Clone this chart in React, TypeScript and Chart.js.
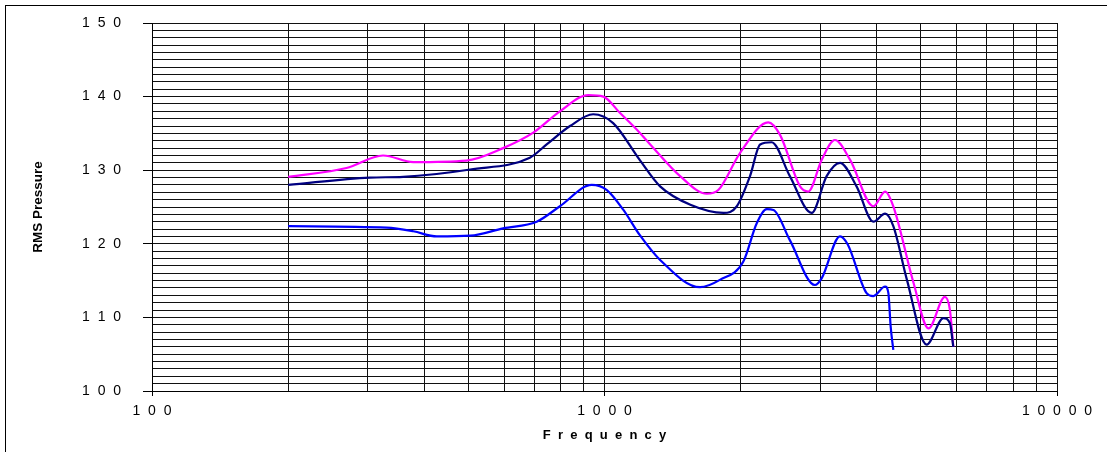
import { useEffect, useRef } from "react";
import { Chart, registerables } from "chart.js";

Chart.register(...registerables);

// ---- Data ----
const magentaFreq = [200, 269, 324, 378, 495, 597, 696, 797, 921, 994, 1081, 1196, 1262, 1469, 1683, 1784, 1991, 2301, 2443, 2705, 2821, 3019, 3230, 3490, 3928, 4170, 4348, 4818, 5200, 5653, 5800, 5900];
const magentaValues = [129.1, 130.3, 132.0, 131.1, 131.3, 133.0, 135.1, 138.0, 140.2, 140.0, 137.8, 135.1, 133.5, 129.2, 126.8, 127.3, 132.3, 136.5, 134.8, 127.8, 127.1, 131.4, 134.1, 131.4, 125.1, 127.1, 125.1, 114.7, 108.5, 112.8, 111.0, 106.0];

const navyFreq = [200, 303, 359, 505, 684, 745, 839, 944, 1045, 1196, 1327, 1548, 1832, 1961, 2097, 2208, 2341, 2568, 2870, 3097, 3315, 3606, 3928, 4170, 4348, 4660, 5150, 5610, 5800, 5900];
const navyValues = [128.0, 129.0, 129.1, 130.1, 131.7, 133.5, 136.0, 137.6, 136.4, 131.4, 127.8, 125.3, 124.2, 125.1, 129.2, 133.5, 133.8, 129.2, 124.2, 129.2, 131.0, 127.8, 123.0, 124.1, 122.4, 115.1, 106.3, 109.9, 109.2, 106.0];

const blueFreq = [200, 330, 378, 426, 505, 597, 708, 797, 937, 1012, 1101, 1196, 1327, 1626, 1799, 2027, 2170, 2284, 2362, 2568, 2918, 3019, 3315, 3448, 3795, 3928, 4170, 4240, 4290, 4348];
const blueValues = [122.4, 122.2, 121.7, 121.0, 121.1, 122.1, 123.0, 125.1, 128.0, 127.3, 124.6, 121.2, 117.8, 114.1, 115.1, 117.6, 122.8, 124.7, 124.6, 120.5, 114.4, 115.3, 121.0, 119.9, 113.3, 112.9, 114.2, 113.3, 108.7, 105.6];

const xGridValues = [100, 200, 300, 400, 500, 600, 700, 800, 900, 1000, 2000, 3000, 4000, 5000, 6000, 7000, 8000, 9000, 10000];
const xLabelValues = [100, 1000, 10000];
const xLabels = ["1  0  0", "1  0  0  0", "1  0  0  0  0"];
const yLabelValues = [100, 110, 120, 130, 140, 150];
const yLabels = ["1  0  0", "1  1  0", "1  2  0", "1  3  0", "1  4  0", "1  5  0"];

const xTitle = "F  r  e  q  u  e  n  c  y";
const yTitle = "RMS Pressure";

const FONT = "'Liberation Sans', Arial, Helvetica, sans-serif";

function toPoints(f: number[], v: number[]) {
  return f.map((x, i) => ({ x, y: v[i] }));
}

export default function App() {
  const ref = useRef<HTMLCanvasElement>(null);

  useEffect(() => {
    if (!ref.current) return;
    const chart = new Chart(ref.current, {
      type: "line",
      data: {
        datasets: [
          {
            label: "Series 3",
            data: toPoints(blueFreq, blueValues),
            borderColor: "#0000FF",
            borderWidth: 2.2,
            pointRadius: 0,
            cubicInterpolationMode: "monotone",
            fill: false,
          },
          {
            label: "Series 2",
            data: toPoints(navyFreq, navyValues),
            borderColor: "#000080",
            borderWidth: 2.2,
            pointRadius: 0,
            cubicInterpolationMode: "monotone",
            fill: false,
          },
          {
            label: "Series 1",
            data: toPoints(magentaFreq, magentaValues),
            borderColor: "#FF00FF",
            borderWidth: 2.2,
            pointRadius: 0,
            cubicInterpolationMode: "monotone",
            fill: false,
          },
        ],
      },
      options: {
        animation: false,
        responsive: false,
        maintainAspectRatio: false,
        layout: { padding: { left: 0, top: 23, right: 50, bottom: 0 } },
        plugins: {
          legend: { display: false },
          tooltip: { enabled: false },
        },
        scales: {
          x: {
            type: "logarithmic",
            min: 100,
            max: 10000,
            afterBuildTicks: (s: any) => {
              s.ticks = xGridValues.map((value) => ({ value }));
            },
            afterFit: (s: any) => {
              s.height = 61;
              s.paddingLeft = 0;
              s.paddingRight = 0;
            },
            ticks: {
              autoSkip: false,
              maxRotation: 0,
              minRotation: 0,
              padding: 7,
              color: "#000",
              font: { family: FONT, size: 14 },
              callback: (value: any) => {
                const i = xLabelValues.indexOf(Number(value));
                return i >= 0 ? xLabels[i] : "";
              },
            },
            grid: {
              color: "#111",
              lineWidth: 1,
              tickLength: 5,
              tickColor: (c: any) =>
                c.tick && xLabelValues.includes(c.tick.value) ? "#000" : "rgba(0,0,0,0)",
            },
            border: { color: "#000", width: 1 },
            title: {
              display: true,
              text: xTitle,
              color: "#000",
              font: { family: FONT, size: 13, weight: "bold" },
              padding: { top: 0, bottom: 9 },
            },
          },
          y: {
            type: "linear",
            min: 100,
            max: 150,
            afterFit: (s: any) => {
              s.width = 152;
              s.paddingTop = 0;
              s.paddingBottom = 0;
            },
            ticks: {
              stepSize: 1,
              autoSkip: false,
              padding: 22,
              color: "#000",
              font: { family: FONT, size: 14 },
              callback: (value: any) => {
                const i = yLabelValues.indexOf(Number(value));
                return i >= 0 ? yLabels[i] : "";
              },
            },
            grid: {
              color: "#111",
              lineWidth: 1,
              tickLength: 9,
              tickColor: (c: any) =>
                c.tick && yLabelValues.includes(c.tick.value) ? "#000" : "rgba(0,0,0,0)",
            },
            border: { color: "#000", width: 1 },
            title: {
              display: true,
              text: yTitle,
              color: "#000",
              font: { family: FONT, size: 13.5, weight: "bold" },
              padding: { top: 30, bottom: 0 },
            },
          },
        },
      },
    } as any);
    return () => chart.destroy();
  }, []);

  return (
    <div
      style={{
        position: "fixed",
        left: 0,
        top: 0,
        width: 1107,
        height: 452,
        overflow: "hidden",
        background: "#fff",
      }}
    >
      <div
        style={{
          position: "absolute",
          left: 5,
          top: 5,
          width: 1200,
          height: 600,
          border: "1px solid #000",
        }}
      />
      <canvas
        ref={ref}
        width={1107}
        height={452}
        style={{ position: "absolute", left: 0, top: 0, width: 1107, height: 452 }}
      />
    </div>
  );
}
